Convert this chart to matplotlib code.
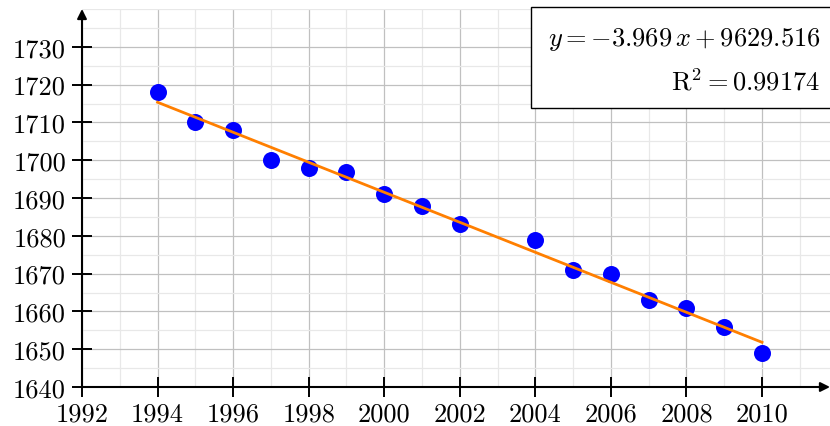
import matplotlib
matplotlib.use("Agg")
from matplotlib import pyplot as plt
from matplotlib.patches import Rectangle
import numpy as np

years = [1994, 1995, 1996, 1997, 1998, 1999, 2000, 2001, 2002,
         2004, 2005, 2006, 2007, 2008, 2009, 2010]
values = [1718, 1710, 1708, 1700, 1698, 1697, 1691, 1688, 1683,
          1679, 1671, 1670, 1663, 1661, 1656, 1649]
slope = -3.969
intercept = 9629.516
r2 = 0.99174

x_ticks = list(range(1992, 2011, 2))
y_ticks = list(range(1640, 1731, 10))

plt.rcParams['font.family'] = 'serif'
plt.rcParams['font.serif'] = ['cmr10', 'DejaVu Serif']
plt.rcParams['mathtext.fontset'] = 'cm'
plt.rcParams['axes.unicode_minus'] = False

fig = plt.figure(figsize=(8.3, 4.27), dpi=100)
W, H = 830, 427
left, right, top, bottom = 82, 830, 10, 388
ax = fig.add_axes([left / W, 1 - bottom / H, (right - left) / W, (bottom - top) / H])

ax.set_xlim(1992, 1992 + (right - left) / (680 / 18))
ax.set_ylim(1640, 1740)

ax.set_xticks(x_ticks)
ax.set_yticks(y_ticks)
ax.set_xticks(np.arange(1992, 2012, 1), minor=True)
ax.set_yticks(np.arange(1640, 1741, 5), minor=True)
ax.grid(which='major', color='#c0c0c0', lw=0.9)
ax.grid(which='minor', color='#e8e8e8', lw=0.9)
ax.set_axisbelow(True)

ax.tick_params(which='major', direction='inout', length=15, width=1.4,
               labelsize=19, pad=4)
ax.tick_params(which='minor', length=0)
ax.tick_params(axis='x', pad=3)

for s in ax.spines.values():
    s.set_visible(False)

ax.annotate('', xy=(1, 0), xytext=(0, 0), xycoords='axes fraction',
            arrowprops=dict(arrowstyle='-|>', color='k', lw=1.5, mutation_scale=14,
                            shrinkA=0, shrinkB=0))
ax.annotate('', xy=(0, 1.0), xytext=(0, 0), xycoords='axes fraction',
            arrowprops=dict(arrowstyle='-|>', color='k', lw=1.5, mutation_scale=14,
                            shrinkA=0, shrinkB=0))

ax.scatter(years, values, s=150, color='#0000ff', zorder=3, linewidths=0)
fx = np.array([years[0], years[-1]])
ax.plot(fx, slope * fx + intercept, color='#ff7f00', lw=2.0, zorder=4)

box = Rectangle((0.600, 0.738), 0.45, 0.267, transform=ax.transAxes,
                facecolor='white', edgecolor='black', lw=1.0, zorder=5, clip_on=False)
ax.add_patch(box)
ax.text(0.987, 0.923, r'$y = %.3f\,x + %.3f$' % (slope, intercept), transform=ax.transAxes,
        ha='right', va='center', fontsize=19, zorder=6)
ax.text(0.987, 0.810, r'$\mathrm{R}^2 = %.5f$' % r2, transform=ax.transAxes,
        ha='right', va='center', fontsize=19, zorder=6)

fig.savefig('out.png', dpi=100)
